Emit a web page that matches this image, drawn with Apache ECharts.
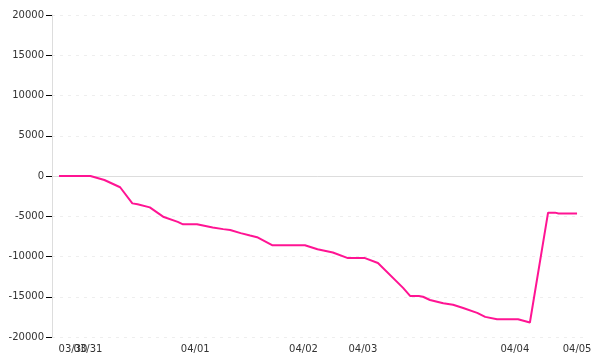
<!DOCTYPE html>
<html>
<head>
<meta charset="utf-8">
<script src="https://cdn.jsdelivr.net/npm/echarts@6/dist/echarts.min.js"></script>
<style>html,body{margin:0;padding:0;background:#fff}#c{width:600px;height:360px}</style>
</head>
<body>
<div id="c"></div>
<script>
// sample positions along the x axis (sequence index)
var xPos = [2, 11, 15, 19.5, 23, 24.5, 28, 32, 36, 37.5, 41.5, 46, 49, 51, 54, 56.7, 58.7, 63, 72.4, 76, 80.4, 84.7, 89.6, 93.3, 100.5, 102.5, 105, 106.2, 108.2, 112, 114.8, 117.7, 121.7, 124, 127.4, 133.4, 136.8, 142, 144, 145, 150.3];
var yVals = [0, 0, -500, -1400, -3400, -3500, -3900, -5100, -5700, -6000, -6000, -6400, -6600, -6700, -7100, -7400, -7600, -8600, -8600, -9100, -9500, -10200, -10200, -10800, -13900, -14900, -14900, -15000, -15400, -15800, -16000, -16400, -17000, -17500, -17800, -17800, -18200, -4550, -4550, -4650, -4650];
var tickPos = [6, 41, 72, 89, 132.5, 150.3];
var tickLabels = ['03/30', '04/01', '04/02', '04/03', '04/04', '04/05'];
var tickPos2 = [10.3];
var tickLabels2 = ['03/31'];

var data = xPos.map(function (x, i) { return [x, yVals[i]]; });

function xAxisFor(pos, labels) {
  return {
    type: 'value', min: 0, max: 152, position: 'bottom',
    axisLine: { show: false },
    axisTick: { show: false },
    splitLine: { show: false },
    axisLabel: {
      customValues: pos,
      hideOverlap: false,
      color: '#333', fontFamily: 'DejaVu Sans', fontSize: 10, margin: 7,
      formatter: function (v) {
        var k = pos.indexOf(v);
        return k >= 0 ? labels[k] : '';
      }
    }
  };
}

var chart = echarts.init(document.getElementById('c'));
chart.setOption({
  animation: false,
  grid: { left: 52, right: 17, top: 15, bottom: 23 },
  xAxis: [xAxisFor(tickPos, tickLabels), xAxisFor(tickPos2, tickLabels2)],
  yAxis: {
    type: 'value', min: -20000, max: 20000, interval: 5000,
    axisLine: { show: true, lineStyle: { color: '#ddd' } },
    axisTick: { show: true, inside: false, length: 6, lineStyle: { color: '#000', width: 1 } },
    axisLabel: { color: '#333', fontFamily: 'DejaVu Sans', fontSize: 10, margin: 8,
      formatter: function (v) { return String(v); } },
    splitLine: { show: true, lineStyle: { color: '#eee', type: [3, 5] } }
  },
  series: [{
    type: 'line', data: data, showSymbol: false, z: 3,
    lineStyle: { color: '#ff1493', width: 2 },
    itemStyle: { color: '#ff1493' },
    markLine: {
      z: 1, silent: true, symbol: 'none', label: { show: false }, animation: false,
      lineStyle: { color: '#ddd', type: 'solid', width: 1 },
      data: [{ yAxis: 0 }]
    }
  }]
});
</script>
</body>
</html>
